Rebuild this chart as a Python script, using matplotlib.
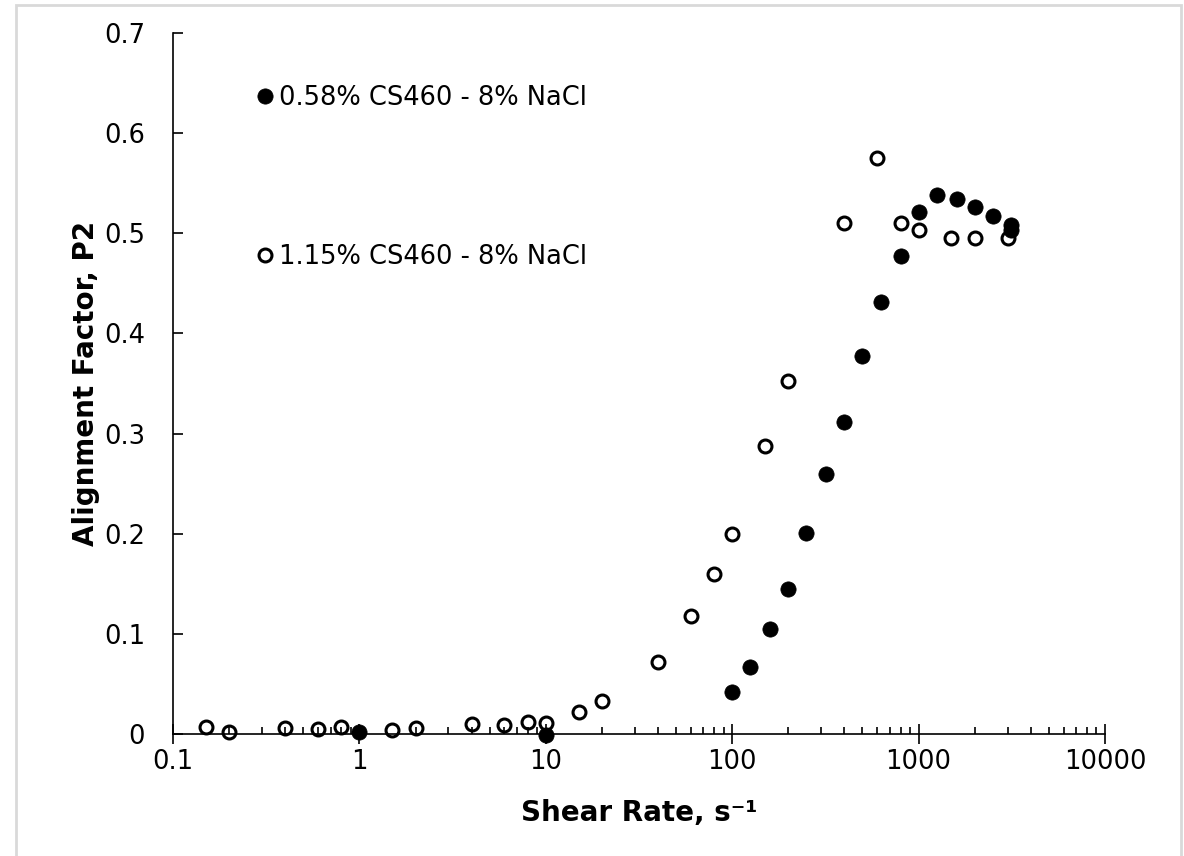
import matplotlib
matplotlib.use("Agg")
import matplotlib.pyplot as plt
from matplotlib.patches import Rectangle
from matplotlib.ticker import LogLocator, FixedLocator, NullFormatter, FixedFormatter

plt.rcParams['font.family'] = ['DejaVu Sans']

# 0.58% CS460 - 8% NaCl (filled)
shear_a = [1, 10, 100, 125, 160, 200, 250, 320, 400, 500, 630, 800, 1000, 1250, 1600, 2000, 2500, 3150, 3150]
p2_a = [0.002, -0.001, 0.042, 0.067, 0.105, 0.145, 0.201, 0.26, 0.312, 0.377, 0.431, 0.477, 0.521, 0.538, 0.534, 0.526, 0.517, 0.508, 0.503]

# 1.15% CS460 - 8% NaCl (open)
shear_b = [0.15, 0.2, 0.4, 0.6, 0.8, 1.5, 2, 4, 6, 8, 10, 15, 20, 40, 60, 80, 100, 150, 200, 400, 600, 800, 1000, 1500, 2000, 3000]
p2_b = [0.007, 0.002, 0.006, 0.005, 0.007, 0.004, 0.006, 0.01, 0.009, 0.012, 0.011, 0.022, 0.033, 0.072, 0.118, 0.16, 0.2, 0.288, 0.352, 0.51, 0.575, 0.51, 0.503, 0.495, 0.495, 0.495]

label_a = "0.58% CS460 - 8% NaCl"
label_b = "1.15% CS460 - 8% NaCl"

x_ticks = [0.1, 1, 10, 100, 1000, 10000]
x_ticklabels = ["0.1", "1", "10", "100", "1000", "10000"]
y_ticks = [0, 0.1, 0.2, 0.3, 0.4, 0.5, 0.6, 0.7]
y_ticklabels = ["0", "0.1", "0.2", "0.3", "0.4", "0.5", "0.6", "0.7"]

fig = plt.figure(figsize=(11.84, 8.56), dpi=100)
ax = fig.add_axes([173/1184, 1-734/856, (1105-173)/1184, (734-33)/856])

# light gray chart-area border (no bottom edge visible)
fig.add_artist(Rectangle((16/1184, -0.05), (1181-16)/1184, 1.05 - 5/856,
                         transform=fig.transFigure, fill=False,
                         edgecolor='#d9d9d9', linewidth=2.0, clip_on=False))

ax.plot(shear_a, p2_a, linestyle='none', marker='o', markersize=11,
        markerfacecolor='black', markeredgecolor='black', markeredgewidth=0.5,
        label=label_a, zorder=4, clip_on=False)
ax.plot(shear_b, p2_b, linestyle='none', marker='o', markersize=9.3,
        markerfacecolor='none', markeredgecolor='black', markeredgewidth=2.2,
        label=label_b, zorder=3, clip_on=False)

ax.set_xscale('log')
ax.set_xlim(0.1, 10000)
ax.set_ylim(0, 0.7)

ax.xaxis.set_major_locator(FixedLocator(x_ticks))
ax.xaxis.set_major_formatter(FixedFormatter(x_ticklabels))
ax.xaxis.set_minor_locator(LogLocator(base=10, subs=[2, 3, 4, 5, 6, 7, 8, 9], numticks=20))
ax.xaxis.set_minor_formatter(NullFormatter())
ax.yaxis.set_major_locator(FixedLocator(y_ticks))
ax.yaxis.set_major_formatter(FixedFormatter(y_ticklabels))

for s in ['top', 'right']:
    ax.spines[s].set_visible(False)
for s in ['left', 'bottom']:
    ax.spines[s].set_linewidth(1.2)

ax.tick_params(axis='x', which='major', direction='inout', length=14, width=1.2,
               labelsize=18.5, pad=4)
ax.tick_params(axis='x', which='minor', direction='in', length=5, width=1.2)
ax.tick_params(axis='y', which='major', direction='in', length=7, width=1.2,
               labelsize=18.5, pad=20)

ax.set_xlabel("Shear Rate, s\u207b\u00b9", fontsize=20, fontweight='bold', labelpad=17)
ax.set_ylabel("Alignment Factor, P2", fontsize=20, fontweight='bold', labelpad=3)

leg = ax.legend(loc='upper left', bbox_to_anchor=(0.07, 0.941), frameon=False,
                fontsize=18.5, labelspacing=5.2, handletextpad=-0.1,
                handlelength=1.3, borderaxespad=0)

fig.savefig("out.png", dpi=100)
